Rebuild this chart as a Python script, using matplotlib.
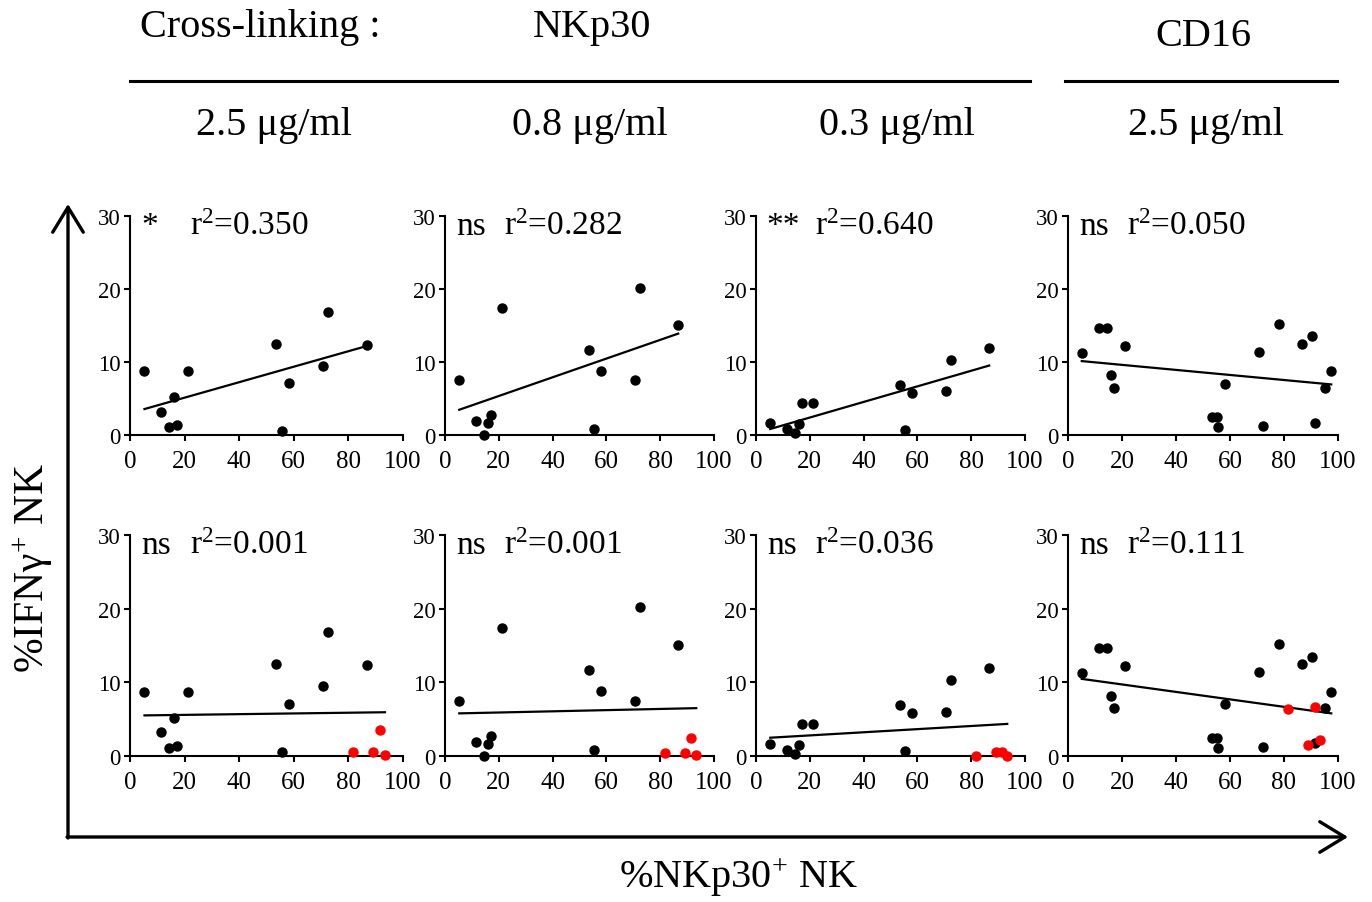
import numpy as np
import matplotlib
matplotlib.use("Agg")
import matplotlib.pyplot as plt

plt.rcParams['font.family'] = ['Liberation Serif', 'DejaVu Serif']
plt.rcParams['mathtext.fontset'] = 'custom'
plt.rcParams['mathtext.rm'] = 'Liberation Serif'
plt.rcParams['mathtext.it'] = 'Liberation Serif:italic'

# %NKp30+ NK of each donor (x) and %IFNg+ NK after NKp30 cross-linking
nkp30_x = [5.3, 11.4, 14.4, 16.0, 17.2, 21.3, 53.4, 55.5, 58.1, 70.8, 72.5, 86.7]
ifn_nkp30_25 = [8.7, 3.2, 1.1, 5.2, 1.4, 8.7, 12.5, 0.5, 7.1, 9.5, 16.9, 12.3]
ifn_nkp30_08 = [7.5, 1.9, 0.0, 1.6, 2.7, 17.4, 11.7, 0.8, 8.8, 7.5, 20.2, 15.1]
ifn_nkp30_03 = [1.6, 0.8, 0.3, 1.5, 4.4, 4.4, 6.9, 0.7, 5.8, 6.0, 10.3, 11.9]

# extra donors (red) added in the lower row
red_x = [81.7, 89.1, 91.6, 93.4]
red_nkp30_25 = [0.5, 0.6, 3.5, 0.15]
red_nkp30_08 = [0.45, 0.45, 2.4, 0.15]
red_nkp30_03 = [0.0, 0.5, 0.6, 0.05]

# CD16 cross-linking
cd16_x = [5.1, 11.3, 14.35, 15.95, 17.1, 21.2, 53.2, 55.0, 55.4, 58.0,
          70.8, 72.4, 78.0, 86.5, 90.5, 91.3, 95.0, 97.5]
ifn_cd16 = [11.3, 14.6, 14.6, 8.2, 6.5, 12.2, 2.5, 2.5, 1.05, 7.0,
            11.4, 1.25, 15.25, 12.5, 13.5, 1.7, 6.45, 8.7]
red_cd16_x = [81.6, 89.0, 91.5, 93.3]
red_cd16 = [6.4, 1.45, 6.65, 2.2]

top_sig = ['*', 'ns', '**', 'ns']
top_r2 = ['0.350', '0.282', '0.640', '0.050']
bottom_sig = ['ns', 'ns', 'ns', 'ns']
bottom_r2 = ['0.001', '0.001', '0.036', '0.111']

concentrations = ['2.5 μg/ml', '0.8 μg/ml', '0.3 μg/ml', '2.5 μg/ml']

W, H = 1372, 903
fig = plt.figure(figsize=(W / 100, H / 100), dpi=100)

# background layer in pixel coordinates for headers and big axes arrows
bg = fig.add_axes([0, 0, 1, 1], zorder=0)
bg.set_xlim(0, W)
bg.set_ylim(H, 0)
bg.axis('off')

bg.text(260, 28, 'Cross-linking :', fontsize=29, ha='center', va='center')
bg.text(592, 28, 'NKp30', fontsize=29, ha='center', va='center')
bg.text(1203, 36, 'CD16', fontsize=29, ha='center', va='center')
bg.plot([130, 1030], [82, 82], color='black', lw=2.2)
bg.plot([1065, 1337], [82, 82], color='black', lw=2.2)
for cx, label in zip([274, 590, 897, 1206], concentrations):
    bg.text(cx, 125, label, fontsize=29, ha='center', va='center')

arrow = dict(arrowstyle='->,head_length=0.9,head_width=0.55', lw=2.4,
             color='black', mutation_scale=20, shrinkA=0, shrinkB=0)
bg.annotate('', xy=(68, 205), xytext=(68, 839), arrowprops=arrow)
bg.annotate('', xy=(1348, 838), xytext=(67, 838), arrowprops=arrow)

bg.text(33, 568, '%IFNγ$^{+}$ NK', fontsize=30, rotation=90, ha='center', va='center')
bg.text(738, 878, '%NKp30$^{+}$ NK', fontsize=29, ha='center', va='center')


def px_axes(left, top, right, bottom):
    return fig.add_axes([left / W, 1 - bottom / H, (right - left) / W, (bottom - top) / H], zorder=2)


def draw_panel(ax, x, y, rx, ry, sig, r2):
    ax.set_facecolor('none')
    all_x = np.array(list(x) + list(rx))
    all_y = np.array(list(y) + list(ry))
    slope, icpt = np.polyfit(all_x, all_y, 1)
    xs = np.array([all_x.min(), all_x.max()])
    ax.plot(xs, slope * xs + icpt, color='black', lw=1.6, zorder=2)
    ax.plot(x, y, 'o', color='black', ms=6.5, clip_on=False, zorder=3)
    if len(rx):
        ax.plot(rx, ry, 'o', color='#ff0000', ms=6.5, clip_on=False, zorder=4)
    ax.set_xlim(0, 100)
    ax.set_ylim(0, 30)
    ax.set_xticks([0, 20, 40, 60, 80, 100])
    ax.set_yticks([0, 10, 20, 30])
    for s in ['top', 'right']:
        ax.spines[s].set_visible(False)
    for s in ['left', 'bottom']:
        ax.spines[s].set_linewidth(1.5)
    ax.tick_params(axis='x', direction='out', length=4, width=1.5, labelsize=18, pad=7)
    ax.tick_params(axis='y', direction='out', length=4, width=1.5, labelsize=16.5, pad=3)
    ax.text(4, 27.6, sig, fontsize=24, ha='left', va='baseline')
    ax.text(22, 27.6, 'r$^{2}$=' + r2, fontsize=24, ha='left', va='baseline')


cols = [(130, 403), (445, 714), (756, 1025), (1068, 1338)]
top_rows = (217, 436)
bottom_rows = (536, 757)

top_data = [(nkp30_x, ifn_nkp30_25), (nkp30_x, ifn_nkp30_08), (nkp30_x, ifn_nkp30_03), (cd16_x, ifn_cd16)]
red_data = [(red_x, red_nkp30_25), (red_x, red_nkp30_08), (red_x, red_nkp30_03), (red_cd16_x, red_cd16)]

for i, (l, r) in enumerate(cols):
    ax = px_axes(l, top_rows[0], r, top_rows[1])
    draw_panel(ax, top_data[i][0], top_data[i][1], [], [], top_sig[i], top_r2[i])
    ax = px_axes(l, bottom_rows[0], r, bottom_rows[1])
    draw_panel(ax, top_data[i][0], top_data[i][1], red_data[i][0], red_data[i][1],
               bottom_sig[i], bottom_r2[i])

fig.savefig('out.png', dpi=100)
